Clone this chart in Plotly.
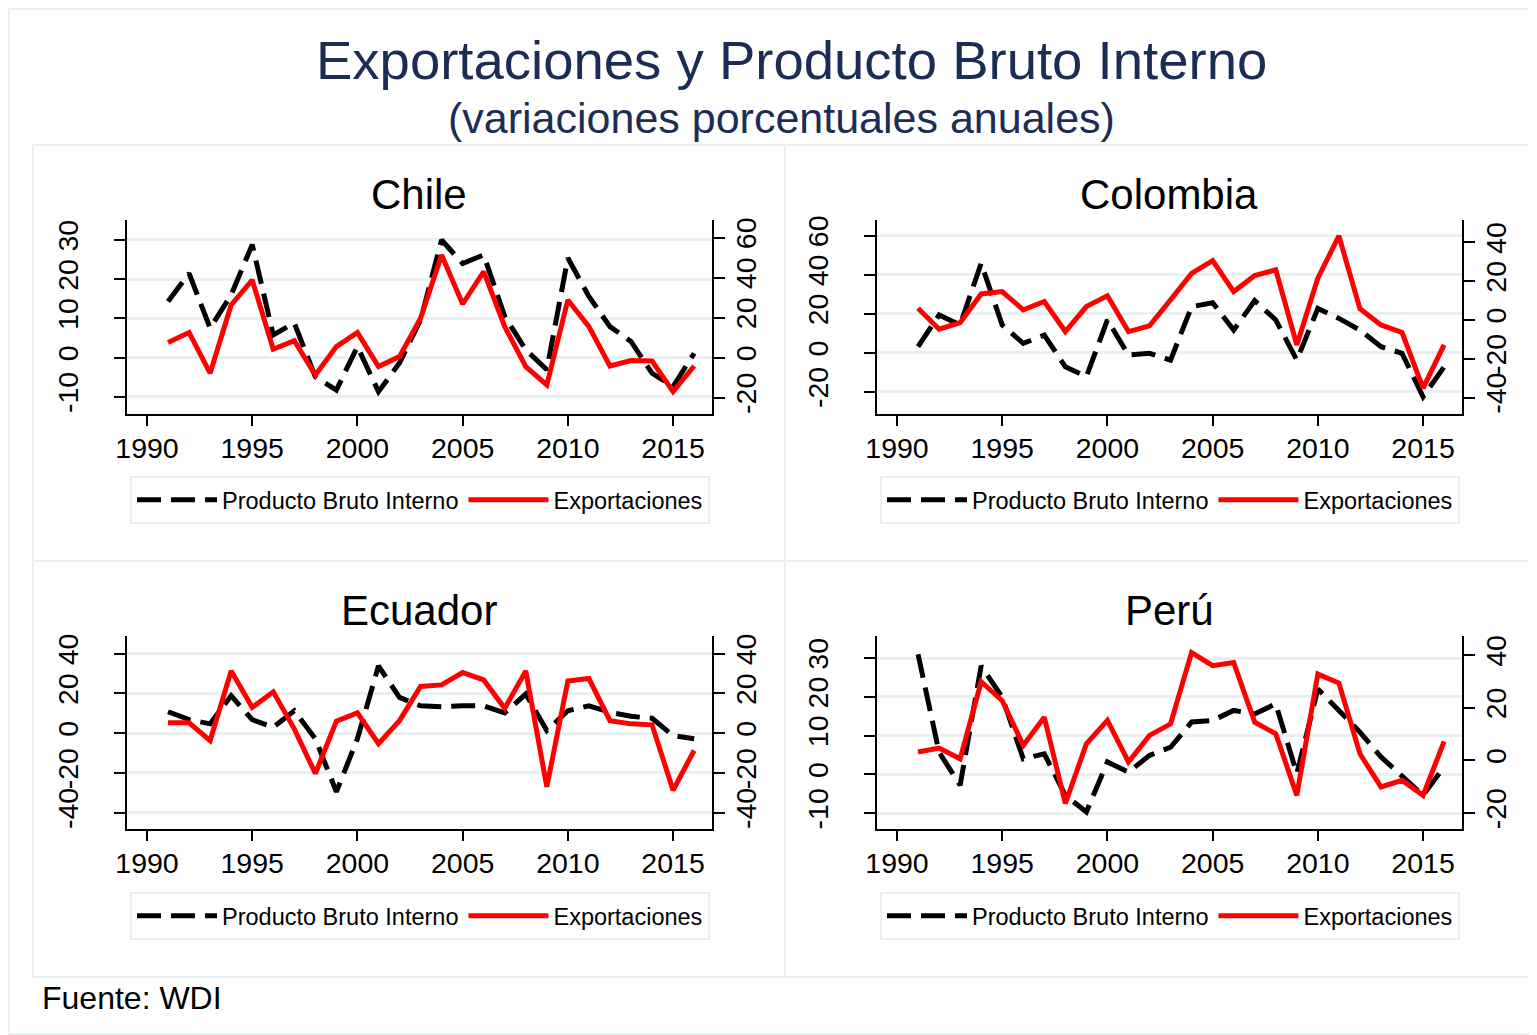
import plotly.graph_objects as go

# page body has an 8px margin: the figure is drawn offset by 8px
OFF = 8
W, H = 1537 - OFF, 1035 - OFF
FONT = "Liberation Sans, Arial, sans-serif"

years = list(range(1991, 2017))

# Producto Bruto Interno (left axis) and Exportaciones (right axis)
chile_pib = [14.3, 21.5, 7.5, 16.0, 28.8, 5.8, 8.8, -4.9, -8.3, 2.8, -8.7, -1.4, 9.6,
             30.0, 24.0, 26.2, 10.5, 2.0, -3.1, 25.4, 15.6, 7.9, 4.1, -4.0, -7.4, 1.1]
chile_exp = [7.5, 12.5, -7.8, 26.3, 38.8, 4.2, 8.5, -8.7, 5.5, 12.5, -4.5, 0.5, 19.7,
             51.3, 26.8, 43.0, 15.5, -4.5, -13.7, 28.8, 15.5, -4.2, -1.5, -1.7, -17.0, -4.2]

colombia_pib = [3.1, 19.3, 14.2, 45.8, 14.2, 4.8, 9.0, -7.2, -12.3, 16.8, -1.2, -0.3, -3.8,
                23.6, 25.6, 11.6, 26.7, 16.8, -3.8, 22.7, 17.6, 11.6, 3.1, -0.3, -22.6, -7.2]
colombia_exp = [6.0, -4.8, -1.4, 13.4, 14.6, 5.2, 9.5, -6.0, 6.9, 12.4, -6.0, -3.1, 10.3,
                24.0, 30.6, 14.6, 22.9, 25.8, -12.9, 21.5, 43.3, 5.7, -2.6, -6.5, -35.2, -12.9]

ecuador_pib = [10.8, 6.8, 4.7, 18.8, 6.8, 3.0, 11.3, -2.8, -29.5, -2.8, 33.8, 18.0, 13.8,
               13.3, 13.8, 13.8, 10.2, 19.7, 1.3, 11.3, 13.8, 10.5, 8.5, 7.5, -1.2, -2.8]
ecuador_exp = [5.2, 5.2, -3.7, 31.3, 13.0, 20.8, 2.2, -20.3, 6.0, 10.2, -5.3, 6.3, 23.5,
               24.3, 30.5, 26.8, 12.5, 31.3, -27.0, 26.3, 27.5, 6.3, 4.7, 4.2, -28.7, -8.7]

peru_pib = [31.0, 5.7, -2.8, 28.0, 19.9, 4.0, 5.3, -5.4, -9.7, 3.2, 0.6, 4.9, 7.0,
            13.5, 13.9, 16.5, 15.6, 18.2, 0.2, 22.0, 16.5, 10.9, 4.5, -0.3, -5.4, 1.9]
peru_exp = [3.2, 4.7, 0.6, 29.9, 22.7, 5.7, 16.4, -16.4, 6.3, 15.2, -0.6, 9.5, 13.9,
            41.0, 36.0, 37.2, 14.5, 10.1, -13.3, 32.8, 29.4, 2.5, -10.1, -7.6, -13.3, 7.2]

countries = ["Chile", "Colombia", "Ecuador", "Perú"]
pib_series = [chile_pib, colombia_pib, ecuador_pib, peru_pib]
exp_series = [chile_exp, colombia_exp, ecuador_exp, peru_exp]

x_ticks = [1990, 1995, 2000, 2005, 2010, 2015]
left_ticks = [[-10, 0, 10, 20, 30], [-20, 0, 20, 40, 60], [-40, -20, 0, 20, 40], [-10, 0, 10, 20, 30]]
right_ticks = [[-20, 0, 20, 40, 60], [-40, -20, 0, 20, 40], [-40, -20, 0, 20, 40], [-20, 0, 20, 40]]
left_ranges = [[-14.4, 35.1], [-31.4, 68.0], [-48.2, 48.9], [-14.1, 35.7]]
right_ranges = [[-28.2, 68.8], [-48.5, 51.5], [-48.2, 48.9], [-26.1, 47.3]]

# layout geometry (page pixels)
plot_x = [(127, 712), (877, 1462), (127, 712), (877, 1462)]
plot_y = [(220, 414), (220, 414), (636, 829), (636, 829)]
title_pos = [(419, 194), (1169, 194), (419, 610), (1169, 610)]
legend_pos = [(420, 500), (1170, 500), (420, 916), (1170, 916)]
panel_boxes = [(33, 145, 785, 561), (785, 145, 1535, 561), (33, 561, 785, 977), (785, 561, 1535, 977)]


def px(x):
    return (x - OFF) / W


def py(y):
    return 1 - (y - OFF) / H


def labels(vals):
    return [str(v) for v in vals]


GRID = "#e8f0f2"
TICKFONT = dict(size=28.5, family=FONT, color="black")
fig = go.Figure()
layout = dict(
    width=W, height=H, autosize=False,
    margin=dict(l=0, r=0, t=0, b=0, pad=0, autoexpand=False),
    paper_bgcolor="white", plot_bgcolor="white",
    font=dict(family=FONT, color="black"),
    showlegend=True,
)
annotations = []
shapes = []

for i in range(4):
    xa = "x" if i == 0 else f"x{i + 1}"
    yl = "y" if i == 0 else f"y{2 * i + 1}"
    yr = f"y{2 * i + 2}"
    leg = "legend" if i == 0 else f"legend{i + 1}"

    fig.add_trace(go.Scatter(
        x=years, y=pib_series[i], mode="lines", name="Producto Bruto Interno",
        line=dict(color="black", width=5, dash="24px,10px"),
        xaxis=xa, yaxis=yl, legend=leg, showlegend=True))
    fig.add_trace(go.Scatter(
        x=years, y=exp_series[i], mode="lines", name="Exportaciones",
        line=dict(color="#ff0000", width=5),
        xaxis=xa, yaxis=yr, legend=leg, showlegend=True))

    xkey = "xaxis" if i == 0 else f"xaxis{i + 1}"
    ylkey = "yaxis" if i == 0 else f"yaxis{2 * i + 1}"
    yrkey = f"yaxis{2 * i + 2}"
    x0, x1 = plot_x[i]
    y0, y1 = plot_y[i]

    layout[xkey] = dict(
        domain=[px(x0), px(x1)], anchor=yl, range=[1989.05, 2016.85],
        tickvals=x_ticks, ticktext=labels(x_ticks), showgrid=False, zeroline=False,
        showline=True, linecolor="black", linewidth=1.5, automargin=False,
        ticks="outside", ticklen=10, tickwidth=1.5, tickcolor="black",
        tickfont=TICKFONT, ticklabelstandoff=-2,
    )
    layout[ylkey] = dict(
        domain=[py(y1), py(y0)], anchor=xa, side="left", range=left_ranges[i],
        tickvals=left_ticks[i], ticktext=labels(left_ticks[i]),
        showgrid=True, gridcolor=GRID, gridwidth=2.5, automargin=False,
        zeroline=False, showline=True, linecolor="black", linewidth=1.5,
        ticks="outside", ticklen=11, tickwidth=1.5, tickcolor="black", tickangle=-90,
        tickfont=TICKFONT, ticklabelstandoff=25,
    )
    layout[yrkey] = dict(
        domain=[py(y1), py(y0)], anchor=xa, overlaying=yl, side="right",
        range=right_ranges[i], tickvals=right_ticks[i], ticktext=labels(right_ticks[i]),
        showgrid=False, automargin=False,
        zeroline=False, showline=True, linecolor="black", linewidth=1.5,
        ticks="outside", ticklen=11, tickwidth=1.5, tickcolor="black", tickangle=-90,
        tickfont=TICKFONT, ticklabelstandoff=-3,
    )

    lx, ly = legend_pos[i]
    layout[leg] = dict(
        orientation="h", x=px(lx), y=py(ly), xanchor="center", yanchor="middle",
        xref="paper", yref="paper",
        font=dict(size=23.5, family=FONT, color="black"),
        bordercolor=GRID, borderwidth=2, bgcolor="white",
        itemwidth=80,
    )

    tx, ty = title_pos[i]
    annotations.append(dict(
        x=px(tx), y=py(ty), xref="paper", yref="paper", text=countries[i],
        showarrow=False, xanchor="center", yanchor="middle",
        font=dict(size=42, family=FONT, color="black")))

    bx0, by0, bx1, by1 = panel_boxes[i]
    shapes.append(dict(type="rect", xref="paper", yref="paper",
                       x0=px(bx0), x1=px(bx1), y0=py(by1), y1=py(by0),
                       line=dict(color=GRID, width=2), layer="below"))

# outer frame
shapes.append(dict(type="rect", xref="paper", yref="paper",
                   x0=px(9), x1=px(1536), y0=py(1034), y1=py(9),
                   line=dict(color=GRID, width=2), layer="below"))

annotations.append(dict(
    x=px(791), y=py(60), xref="paper", yref="paper",
    text="Exportaciones y Producto Bruto Interno", showarrow=False,
    xanchor="center", yanchor="middle",
    font=dict(size=54.5, family=FONT, color="#1c2d55")))
annotations.append(dict(
    x=px(781), y=py(118), xref="paper", yref="paper",
    text="(variaciones porcentuales anuales)", showarrow=False,
    xanchor="center", yanchor="middle",
    font=dict(size=43, family=FONT, color="#1c2d55")))
annotations.append(dict(
    x=px(40), y=py(998), xref="paper", yref="paper",
    text="Fuente: WDI", showarrow=False,
    xanchor="left", yanchor="middle",
    font=dict(size=32, family=FONT, color="black")))

layout["annotations"] = annotations
layout["shapes"] = shapes
fig.update_layout(**layout)

fig.write_html("out.html")
